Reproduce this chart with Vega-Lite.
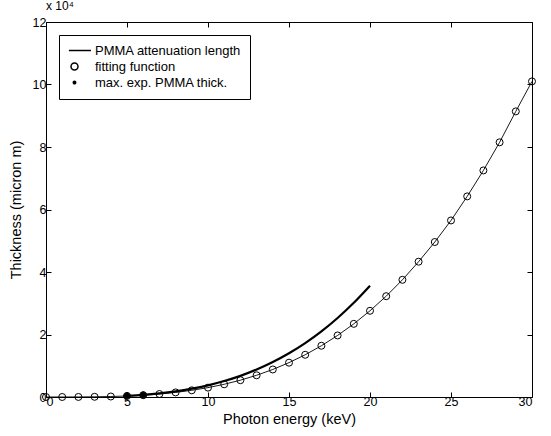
{
  "$schema": "https://vega.github.io/schema/vega-lite/v6.json",
  "width": 486,
  "height": 375,
  "autosize": "none",
  "padding": {"left": 46, "top": 22, "right": 19, "bottom": 39},
  "config": {
    "font": "Liberation Sans",
    "view": {"stroke": "black", "strokeWidth": 1},
    "axis": {
      "labelFont": "Liberation Sans",
      "labelFontSize": 12.5,
      "labelColor": "black",
      "titleFont": "Liberation Sans",
      "titleColor": "black",
      "titleFontSize": 14.5,
      "titleFontWeight": "normal",
      "domain": false,
      "grid": false,
      "tickColor": "black",
      "tickSize": -5
    },
    "legend": {
      "labelFont": "Liberation Sans",
      "labelFontSize": 13,
      "labelColor": "black",
      "strokeColor": "black",
      "fillColor": "white",
      "padding": 9,
      "rowPadding": 2,
      "symbolSize": 49
    }
  },
  "title": {"text": "x 10⁴", "anchor": "start", "frame": "group", "fontSize": 12, "fontWeight": "normal", "font": "Liberation Sans", "color": "black", "offset": 3},
  "datasets": {
    "fit": [
      {"energy": 0, "thickness": 0, "series": "fitting function"},
      {"energy": 1, "thickness": 2, "series": "fitting function"},
      {"energy": 2, "thickness": 17, "series": "fitting function"},
      {"energy": 3, "thickness": 64, "series": "fitting function"},
      {"energy": 4, "thickness": 160, "series": "fitting function"},
      {"energy": 5, "thickness": 330, "series": "fitting function"},
      {"energy": 6, "thickness": 580, "series": "fitting function"},
      {"energy": 7, "thickness": 960, "series": "fitting function"},
      {"energy": 8, "thickness": 1470, "series": "fitting function"},
      {"energy": 9, "thickness": 2140, "series": "fitting function"},
      {"energy": 10, "thickness": 3000, "series": "fitting function"},
      {"energy": 11, "thickness": 4070, "series": "fitting function"},
      {"energy": 12, "thickness": 5380, "series": "fitting function"},
      {"energy": 13, "thickness": 6950, "series": "fitting function"},
      {"energy": 14, "thickness": 8810, "series": "fitting function"},
      {"energy": 15, "thickness": 10990, "series": "fitting function"},
      {"energy": 16, "thickness": 13510, "series": "fitting function"},
      {"energy": 17, "thickness": 16400, "series": "fitting function"},
      {"energy": 18, "thickness": 19700, "series": "fitting function"},
      {"energy": 19, "thickness": 23410, "series": "fitting function"},
      {"energy": 20, "thickness": 27590, "series": "fitting function"},
      {"energy": 21, "thickness": 32260, "series": "fitting function"},
      {"energy": 22, "thickness": 37500, "series": "fitting function"},
      {"energy": 23, "thickness": 43300, "series": "fitting function"},
      {"energy": 24, "thickness": 49600, "series": "fitting function"},
      {"energy": 25, "thickness": 56500, "series": "fitting function"},
      {"energy": 26, "thickness": 64200, "series": "fitting function"},
      {"energy": 27, "thickness": 72500, "series": "fitting function"},
      {"energy": 28, "thickness": 81500, "series": "fitting function"},
      {"energy": 29, "thickness": 91400, "series": "fitting function"},
      {"energy": 30, "thickness": 101000, "series": "fitting function"}
    ],
    "atten": [
      {"energy": 5, "thickness": 390},
      {"energy": 6, "thickness": 710},
      {"energy": 7, "thickness": 1170},
      {"energy": 8, "thickness": 1810},
      {"energy": 9, "thickness": 2660},
      {"energy": 10, "thickness": 3740},
      {"energy": 11, "thickness": 5100},
      {"energy": 12, "thickness": 6770},
      {"energy": 13, "thickness": 8780},
      {"energy": 14, "thickness": 11170},
      {"energy": 15, "thickness": 13980},
      {"energy": 16, "thickness": 17240},
      {"energy": 17, "thickness": 20990},
      {"energy": 18, "thickness": 25280},
      {"energy": 19, "thickness": 30140},
      {"energy": 20, "thickness": 35600}
    ],
    "maxexp": [
      {"energy": 5, "thickness": 380, "series": "max. exp. PMMA thick."},
      {"energy": 6, "thickness": 650, "series": "max. exp. PMMA thick."}
    ]
  },
  "resolve": {"axis": {"x": "independent", "y": "independent"}},
  "layer": [
    {
      "data": {"name": "atten"},
      "mark": {"type": "line", "color": "black", "strokeWidth": 2.2, "interpolate": "monotone"},
      "encoding": {
        "x": {"field": "energy", "type": "quantitative", "scale": {"domain": [0, 30], "nice": false},
              "axis": {"values": [0, 5, 10, 15, 20, 25, 30], "title": "Photon energy (keV)", "labelPadding": 3, "titlePadding": 5}},
        "y": {"field": "thickness", "type": "quantitative", "scale": {"domain": [0, 120000], "nice": false},
              "axis": {"values": [0, 20000, 40000, 60000, 80000, 100000, 120000], "labelExpr": "datum.value / 10000", "title": "Thickness (micron m)", "labelPadding": 5, "titlePadding": 9}}
      }
    },
    {
      "data": {"name": "fit"},
      "mark": {"type": "line", "color": "black", "strokeWidth": 0.9},
      "encoding": {
        "x": {"field": "energy", "type": "quantitative", "axis": {"orient": "top", "values": [0, 5, 10, 15, 20, 25, 30], "labels": false, "title": null}},
        "y": {"field": "thickness", "type": "quantitative", "axis": {"orient": "right", "values": [0, 20000, 40000, 60000, 80000, 100000, 120000], "labels": false, "title": null}}
      }
    },
    {
      "data": {"name": "fit"},
      "mark": {"type": "point", "stroke": "black", "size": 49, "strokeWidth": 1, "opacity": 1},
      "encoding": {
        "x": {"field": "energy", "type": "quantitative", "axis": null},
        "y": {"field": "thickness", "type": "quantitative", "axis": null},
        "shape": {"field": "series", "type": "nominal",
                  "scale": {"domain": ["PMMA attenuation length", "fitting function", "max. exp. PMMA thick."], "range": ["M-1.6,0H4.7", "circle", "M-0.35,0A0.35,0.35 0 1,1 0.35,0A0.35,0.35 0 1,1 -0.35,0Z"]},
                  "legend": {"title": null, "orient": "top-left", "offset": 13, "labelOffset": 14, "symbolSize": 49,
                             "encode": {"symbols": {"update": {
                               "stroke": {"value": "black"},
                               "opacity": {"value": 1},
                               "strokeWidth": {"signal": "datum.value === 'PMMA attenuation length' ? 2 : 1"}
                             }}}}},
        "fill": {"field": "series", "type": "nominal",
                 "scale": {"domain": ["PMMA attenuation length", "fitting function", "max. exp. PMMA thick."], "range": ["transparent", "transparent", "black"]},
                 "legend": {"title": null, "orient": "top-left", "offset": 13, "labelOffset": 14, "symbolSize": 49}}
      }
    },
    {
      "data": {"name": "maxexp"},
      "mark": {"type": "point", "stroke": "black", "size": 300, "strokeWidth": 1, "opacity": 1},
      "encoding": {
        "x": {"field": "energy", "type": "quantitative", "axis": null},
        "y": {"field": "thickness", "type": "quantitative", "axis": null},
        "shape": {"field": "series", "type": "nominal"},
        "fill": {"field": "series", "type": "nominal"}
      }
    }
  ]
}
